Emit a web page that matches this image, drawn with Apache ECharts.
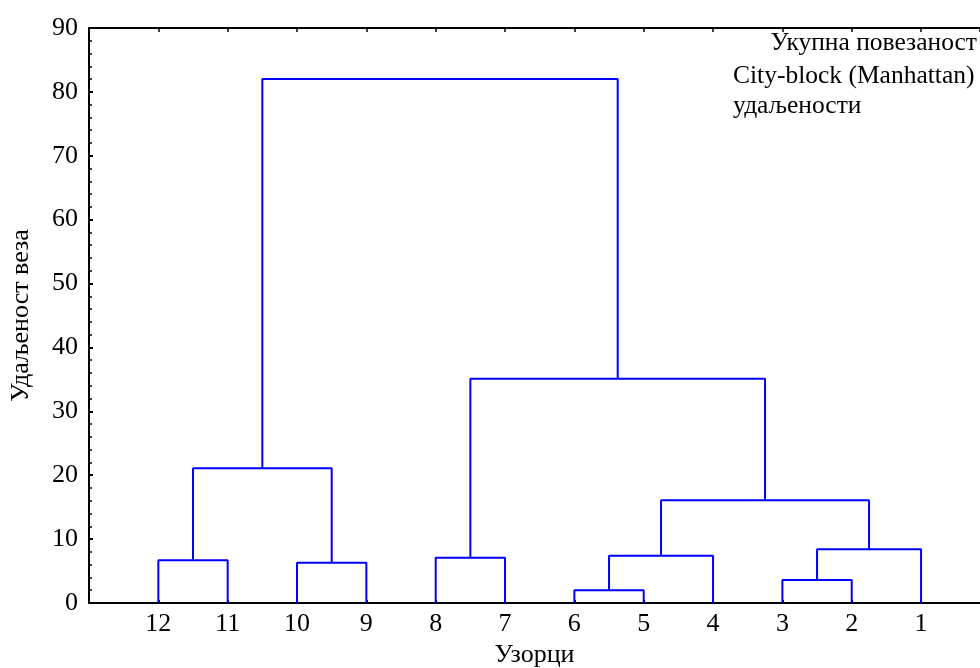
<!DOCTYPE html>
<html>
<head>
<meta charset="utf-8">
<script src="https://cdn.jsdelivr.net/npm/echarts@6/dist/echarts.min.js"></script>
<style>html,body{margin:0;padding:0;background:#fff;}#c{width:980px;height:668px;}</style>
</head>
<body>
<div id="c"></div>
<script>
// Leaf order along the x axis (left to right)
const leafOrder = ['12','11','10','9','8','7','6','5','4','3','2','1'];
// Merge steps: cluster A joined with cluster B at height (M<i> = result of step i)
const mergeA = ['12','10','M0','8','6','M4','3','M6','M5','M3','M2'];
const mergeB = ['11','9','M1','7','5','4','2','1','M7','M8','M9'];
const mergeHeight = [6.7, 6.3, 21.1, 7.1, 2.0, 7.4, 3.6, 8.4, 16.1, 35.1, 82.0];
const yTicks = [0,10,20,30,40,50,60,70,80,90];
const legendLines = ['Укупна повезаност','City-block (Manhattan)','удаљености'];

const FONT = '"Liberation Serif", "Times New Roman", serif';
const FS = 26;
const LFS = 25.5;
const chart = echarts.init(document.getElementById('c'), null, {renderer:'canvas'});

// node positions (x = leaf index, y = height)
const pos = {};
leafOrder.forEach((l,i)=>{ pos[l] = [i+1, 0]; });
const series = [];
mergeA.forEach((a,i)=>{
  const b = mergeB[i], h = mergeHeight[i];
  const pa = pos[a], pb = pos[b];
  series.push({
    type:'line', symbol:'none', silent:true, animation:false,
    lineStyle:{color:'#0000ff', width:2},
    data:[[pa[0],pa[1]],[pa[0],h],[pb[0],h],[pb[0],pb[1]]]
  });
  pos['M'+i] = [(pa[0]+pb[0])/2, h];
});

const labelStyle = {color:'#000', fontFamily:FONT, fontSize:FS};
chart.setOption({
  animation:false,
  backgroundColor:'#fff',
  grid:{left:89, top:28, right:0, bottom:65, containLabel:false, outerBoundsMode:'none'},
  xAxis:[{
    type:'value', min:0, max:12.85, interval:1,
    name:'Узорци', nameLocation:'middle', nameGap:39,
    nameTextStyle:{color:'#000', fontFamily:FONT, fontSize:FS},
    axisLine:{lineStyle:{color:'#000', width:2}},
    axisTick:{inside:true, length:3, lineStyle:{color:'#000', width:2}},
    axisLabel:Object.assign({margin:8, showMaxLabel:false, formatter:v=> (v>=1 && v<=leafOrder.length) ? leafOrder[v-1] : ''}, labelStyle),
    splitLine:{show:false}
  },{
    type:'value', min:0, max:12.85, interval:1, position:'top',
    axisLine:{lineStyle:{color:'#000', width:2}},
    axisTick:{inside:true, length:4, lineStyle:{color:'#000', width:1.5}},
    axisLabel:{show:false}, splitLine:{show:false}
  }],
  yAxis:{
    type:'value', min:0, max:90, interval:10,
    name:'Удаљеност веза', nameLocation:'middle', nameGap:55,
    nameTextStyle:{color:'#000', fontFamily:FONT, fontSize:FS},
    axisLine:{show:true, lineStyle:{color:'#000', width:2}},
    axisTick:{inside:true, length:4, lineStyle:{color:'#000', width:2}},
    minorTick:{show:true, splitNumber:5, length:3, lineStyle:{color:'#000', width:1.5}},
    axisLabel:Object.assign({margin:11, formatter:v=> yTicks.indexOf(v)>=0 ? String(v) : ''}, labelStyle),
    splitLine:{show:false}
  },
  graphic:[
    {type:'text', right:3, top:30, style:{text:legendLines[0], font:LFS+'px '+FONT, fill:'#000'}},
    {type:'text', left:733, top:63.5, style:{text:legendLines[1], font:LFS+'px '+FONT, fill:'#000'}},
    {type:'text', left:733, top:93.5, style:{text:legendLines[2], font:LFS+'px '+FONT, fill:'#000'}}
  ],
  series: series
});
</script>
</body>
</html>
